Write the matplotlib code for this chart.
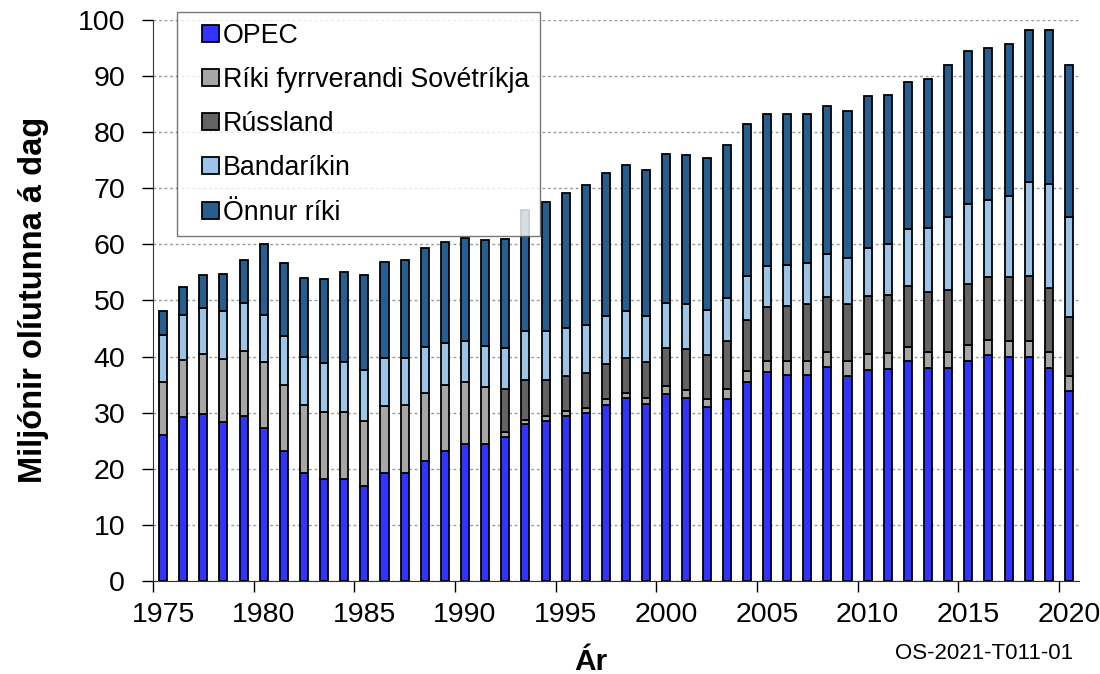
import numpy as np
import matplotlib
matplotlib.use("Agg")
import matplotlib.pyplot as plt
from matplotlib.patches import Rectangle
from matplotlib.legend_handler import HandlerPatch

plt.rcParams['font.family'] = ['Liberation Sans', 'DejaVu Sans']

years = np.arange(1975, 2021)

opec = [26.0, 29.3, 29.8, 28.3, 29.5, 27.2, 23.2, 19.3, 18.2, 18.2,
        16.9, 19.3, 19.3, 21.4, 23.2, 24.4, 24.4, 25.7, 27.9, 28.6,
        29.4, 29.9, 31.4, 32.7, 31.5, 33.3, 32.7, 31.1, 32.4, 35.4,
        37.2, 36.8, 36.7, 38.1, 36.5, 37.6, 37.8, 39.2, 38.0, 38.0,
        39.2, 40.2, 40.0, 39.9, 37.9, 33.8]
fsu = [9.5, 10.1, 10.7, 11.2, 11.5, 11.8, 11.8, 12.1, 12.0, 11.9,
       11.7, 11.9, 12.1, 12.1, 11.8, 11.1, 10.2, 0.9, 0.8, 0.9,
       0.9, 1.0, 1.0, 0.9, 1.1, 1.4, 1.3, 1.4, 1.8, 2.0,
       2.0, 2.4, 2.5, 2.7, 2.8, 2.9, 2.8, 2.6, 2.9, 2.9,
       2.8, 2.8, 2.8, 2.9, 2.9, 2.7]
russia = [0, 0, 0, 0, 0, 0, 0, 0, 0, 0,
          0, 0, 0, 0, 0, 0, 0, 7.7, 7.1, 6.4,
          6.2, 6.1, 6.2, 6.2, 6.4, 6.8, 7.3, 7.7, 8.5, 9.2,
          9.6, 9.8, 10.1, 9.8, 10.1, 10.3, 10.4, 10.7, 10.7, 10.9,
          11.0, 11.2, 11.3, 11.5, 11.4, 10.6]
usa = [8.4, 8.1, 8.2, 8.7, 8.6, 8.5, 8.6, 8.6, 8.7, 8.9,
       9.0, 8.6, 8.4, 8.2, 7.5, 7.3, 7.3, 7.2, 8.8, 8.7,
       8.6, 8.6, 8.6, 8.4, 8.2, 8.1, 8.0, 8.1, 7.8, 7.8,
       7.3, 7.3, 7.4, 7.7, 8.2, 8.6, 9.1, 10.2, 11.3, 13.0,
       14.2, 13.8, 14.6, 16.8, 18.6, 17.7]
other = [4.2, 4.9, 5.8, 6.6, 7.6, 12.5, 13.0, 14.0, 14.9, 16.1,
         17.0, 17.1, 17.5, 17.7, 18.0, 18.4, 18.9, 19.4, 21.5, 22.9,
         24.0, 25.0, 25.6, 26.0, 26.1, 26.5, 26.7, 27.1, 27.3, 27.1,
         27.1, 27.0, 26.6, 26.4, 26.2, 27.0, 26.6, 26.2, 26.5, 27.1,
         27.3, 27.0, 27.0, 27.2, 27.4, 27.1]

series = [
    ("OPEC", opec, "#3333FF"),
    ("Ríki fyrrverandi Sovétríkja", fsu, "#A6A6A6"),
    ("Rússland", russia, "#636363"),
    ("Bandaríkin", usa, "#9DC3E6"),
    ("Önnur ríki", other, "#255E91"),
]

fig = plt.figure(figsize=(11, 6.74), dpi=100)
ax = fig.add_axes([153 / 1100, 1 - 581 / 674, 926 / 1100, 561 / 674])

bottom = np.zeros(len(years))
handles = []
for name, vals, col in series:
    bars = ax.bar(years, vals, width=0.4, bottom=bottom, color=col,
                  edgecolor="black", linewidth=1.3, label=name, zorder=3)
    handles.append(bars.patches[0])
    bottom += np.array(vals)

ax.set_xlim(1974.5, 2020.5)
ax.set_ylim(0, 100)
ax.set_yticks(np.arange(0, 101, 10))
ax.set_xticks(np.arange(1975, 2021, 5))
ax.set_xticks(np.arange(1974.5, 2021, 5), minor=True)
ax.tick_params(axis="x", which="major", length=0, pad=15, labelsize=20.5)
ax.tick_params(axis="x", which="minor", length=8, width=1, direction="out")
ax.tick_params(axis="y", length=8, width=1, direction="out", pad=12, labelsize=20.5)

ax.grid(axis="y", color="#999999", linestyle=(0, (2, 2)), linewidth=1, zorder=0)
ax.set_axisbelow(True)
for s in ["top", "right"]:
    ax.spines[s].set_visible(False)
ax.spines["left"].set_color("#333333")
ax.spines["bottom"].set_color("#333333")


# small square sitting at the right end of the handle box
def square(legend, orig_handle, xdescent, ydescent, width, height, fontsize):
    return Rectangle((-xdescent + width - height, -ydescent), height, height)


leg = ax.legend(handles, [s[0] for s in series],
                handler_map={Rectangle: HandlerPatch(patch_func=square)},
                loc="upper left", bbox_to_anchor=(177 / 1100, 1 - 12 / 674),
                bbox_transform=fig.transFigure, borderaxespad=0,
                fontsize=19.3, fancybox=False, edgecolor="#555555",
                framealpha=0.8, handlelength=1.16, handleheight=0.6,
                handletextpad=0.15, labelspacing=0.68, borderpad=0.4)
leg.get_frame().set_linewidth(1)

fig.text(34 / 1100, 1 - 300 / 674, "Miljónir olíutunna á dag", rotation=90,
         ha="center", va="center", fontsize=23.5, fontweight="bold")
fig.text(591 / 1100, 1 - 670 / 674, "Ár", ha="center", va="baseline",
         fontsize=21.5, fontweight="bold")
fig.text(1073 / 1100, 1 - 659 / 674, "OS-2021-T011-01", ha="right",
         va="baseline", fontsize=16)

fig.savefig("out.png", dpi=100)
